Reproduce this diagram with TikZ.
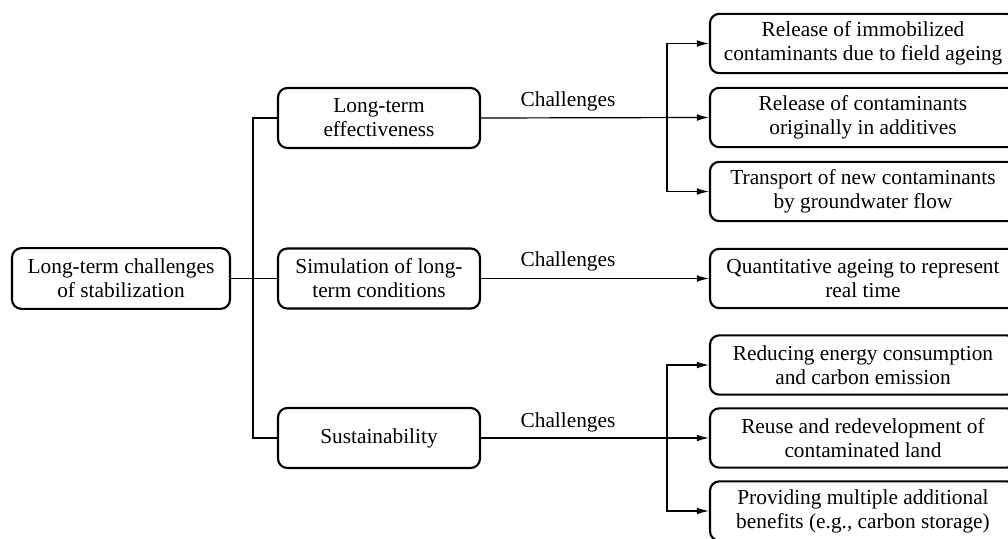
\documentclass[tikz,border=0pt]{standalone}
\usepackage{fontspec}
\setmainfont{Liberation Serif}
\usetikzlibrary{arrows.meta}
\begin{document}
\begin{tikzpicture}[x=0.75pt,y=-0.75pt,
  box/.style={draw, line width=1.6pt, rounded corners=7pt, align=center,
    inner sep=0pt, font=\fontsize{16}{18}\selectfont},
  rootbox/.style={box, minimum width=163.5pt, minimum height=45.5pt},
  midbox/.style={box, minimum width=151.5pt, minimum height=45pt},
  rbox/.style={box, minimum width=229.5pt, minimum height=44.5pt},
  conn/.style={line width=0.9pt},
  arr/.style={conn, -{Latex[length=9pt,width=5pt]}},
  lbl/.style={font=\fontsize{16}{18}\selectfont, inner sep=0pt}]
\useasboundingbox (0,0) rectangle (1008,539);
\fill[white] (0,0) rectangle (1008,539);

\node[rootbox] (root) at (121,278.5) {Long-term challenges\\of stabilization};
\node[midbox] (lte) at (379,118) {Long-term\\effectiveness};
\node[midbox] (sim) at (379,278.5) {Simulation of long-\\term conditions};
\node[midbox] (sus) at (379,438) {Sustainability};

\node[rbox] (r1) at (863,43.5) {Release of immobilized\\contaminants due to field ageing};
\node[rbox] (r2) at (863,117.5) {Release of contaminants\\originally in additives};
\node[rbox] (r3) at (863,191.5) {Transport of new contaminants\\by groundwater flow};
\node[rbox] (r4) at (863,278.5) {Quantitative ageing to represent\\real time};
\node[rbox] (r5) at (863,365) {Reducing energy consumption\\and carbon emission};
\node[rbox] (r6) at (863,438) {Reuse and redevelopment of\\contaminated land};
\node[rbox] (r7) at (863,511) {Providing multiple additional\\benefits (e.g., carbon storage)};

% trunk
\coordinate (tt) at (253,118);
\coordinate (tb) at (253,438);
\draw[conn] (root.east) -- (sim.west);
\draw[conn] (lte.west) -- (tt) -- (tb) -- (sus.west);

% top group
\coordinate (a1) at (667,118);
\draw[arr] (lte.east) -- (r2.west);
\draw[arr] (a1) |- (r1.west);
\draw[arr] (a1) |- (r3.west);
\node[lbl] (c1) at (568,101) {Challenges};

% middle group
\draw[arr] (sim.east) -- (r4.west);
\node[lbl] (c2) at (568,261) {Challenges};

% bottom group
\coordinate (a3) at (667,438);
\draw[arr] (sus.east) -- (r6.west);
\draw[arr] (a3) |- (r5.west);
\draw[arr] (a3) |- (r7.west);
\node[lbl] (c3) at (568,422) {Challenges};
\end{tikzpicture}
\end{document}
